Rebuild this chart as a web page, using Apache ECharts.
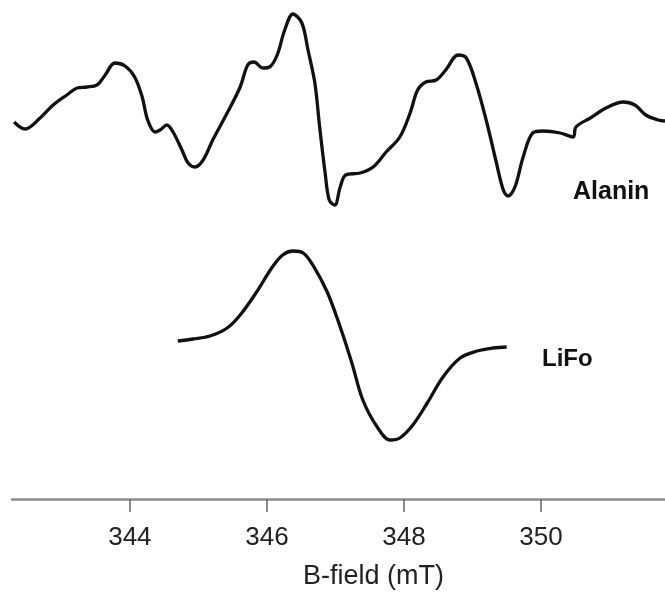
<!DOCTYPE html>
<html>
<head>
<meta charset="utf-8">
<script src="https://cdn.jsdelivr.net/npm/echarts@6/dist/echarts.min.js"></script>
<style>
  html, body { margin: 0; padding: 0; background: #fff; }
  #chart { width: 665px; height: 592px; }
</style>
</head>
<body>
<div id="chart"></div>
<script>
// EPR spectra: first-derivative signal vs magnetic field (mT), arbitrary intensity units
const alaninField = [342.31, 342.47, 342.69, 342.88, 343.08, 343.23, 343.37, 343.52, 343.64, 343.78,
  343.93, 344.07, 344.18, 344.26, 344.37, 344.44, 344.54, 344.63, 344.76, 344.85,
  344.95, 345.07, 345.21, 345.42, 345.61, 345.72, 345.81, 345.94, 346.04, 346.15,
  346.26, 346.38, 346.51, 346.60, 346.70, 346.77, 346.85, 346.91, 346.99, 347.07,
  347.15, 347.36, 347.55, 347.74, 347.94, 348.09, 348.20, 348.32, 348.47, 348.61,
  348.79, 348.91, 349.05, 349.20, 349.34, 349.45, 349.52, 349.62, 349.74, 349.88,
  350.03, 350.28, 350.47, 350.51, 350.72, 350.95, 351.20, 351.37, 351.53, 351.71, 351.81];
const alaninSignal = [377, 370, 381, 394, 404, 411, 412, 414, 424, 436,
  433, 422, 402, 379, 367, 369, 374, 367, 349, 336,
  332, 339, 359, 386, 412, 434, 437, 431, 432, 444,
  469, 485, 476, 449, 416, 372, 326, 299, 294, 312,
  324, 326, 332, 347, 362, 386, 409, 417, 419, 429,
  444, 441, 416, 379, 339, 309, 303, 312, 342, 366,
  368, 366, 362, 372, 381, 391, 397, 394, 384, 379, 378];

const lifoField = [344.70, 344.92, 345.17, 345.42, 345.61, 345.85, 346.07, 346.23, 346.38, 346.53,
  346.67, 346.88, 347.07, 347.24, 347.40, 347.61, 347.80, 347.94, 348.13, 348.34,
  348.57, 348.82, 349.07, 349.30, 349.50];
const lifoSignal = [158, 160, 163, 171, 184, 207, 231, 244, 248, 246,
  234, 207, 172, 136, 99, 72, 59, 61, 74, 96,
  122, 141, 148, 151, 152];

const fieldTicks = [344, 346, 348, 350];
const seriesNames = ['Alanin', 'LiFo'];

const pairs = (xs, ys) => xs.map((x, i) => [x, ys[i]]);
const font = "'Liberation Sans', Arial, Helvetica, sans-serif";

const chart = echarts.init(document.getElementById('chart'), null, { renderer: 'canvas' });

const lineStyle = { color: '#111', width: 3.3 };

chart.setOption({
  backgroundColor: '#fff',
  animation: false,
  grid: { left: 12, right: 0, top: 0, bottom: 93, outerBoundsMode: 'none', containLabel: false },
  xAxis: {
    type: 'value',
    min: 342.28,
    max: 351.81,
    name: 'B-field (mT)',
    nameLocation: 'middle',
    nameGap: 64,
    nameTextStyle: { color: '#222', fontSize: 27, fontFamily: font, padding: [0, 0, 0, 70] },
    axisLine: { show: true, lineStyle: { color: '#8c8c8c', width: 2.5 } },
    axisTick: { show: true, customValues: fieldTicks, length: 13, lineStyle: { color: '#666', width: 1.5 } },
    axisLabel: { customValues: fieldTicks, margin: 26, color: '#222', fontSize: 26, fontFamily: font },
    splitLine: { show: false }
  },
  yAxis: {
    type: 'value',
    min: 0,
    max: 499,
    show: false
  },
  series: [
    {
      name: seriesNames[0],
      type: 'line',
      data: pairs(alaninField, alaninSignal),
      showSymbol: false,
      smooth: 0.35,
      lineStyle: lineStyle
    },
    {
      name: seriesNames[1],
      type: 'line',
      data: pairs(lifoField, lifoSignal),
      showSymbol: false,
      smooth: 0.35,
      lineStyle: lineStyle
    }
  ],
  graphic: [
    {
      type: 'text',
      left: 573,
      top: 180,
      style: { text: seriesNames[0], fill: '#111', font: 'bold 25px ' + font }
    },
    {
      type: 'text',
      left: 542,
      top: 347,
      style: { text: seriesNames[1], fill: '#111', font: 'bold 24px ' + font }
    }
  ]
});
</script>
</body>
</html>
